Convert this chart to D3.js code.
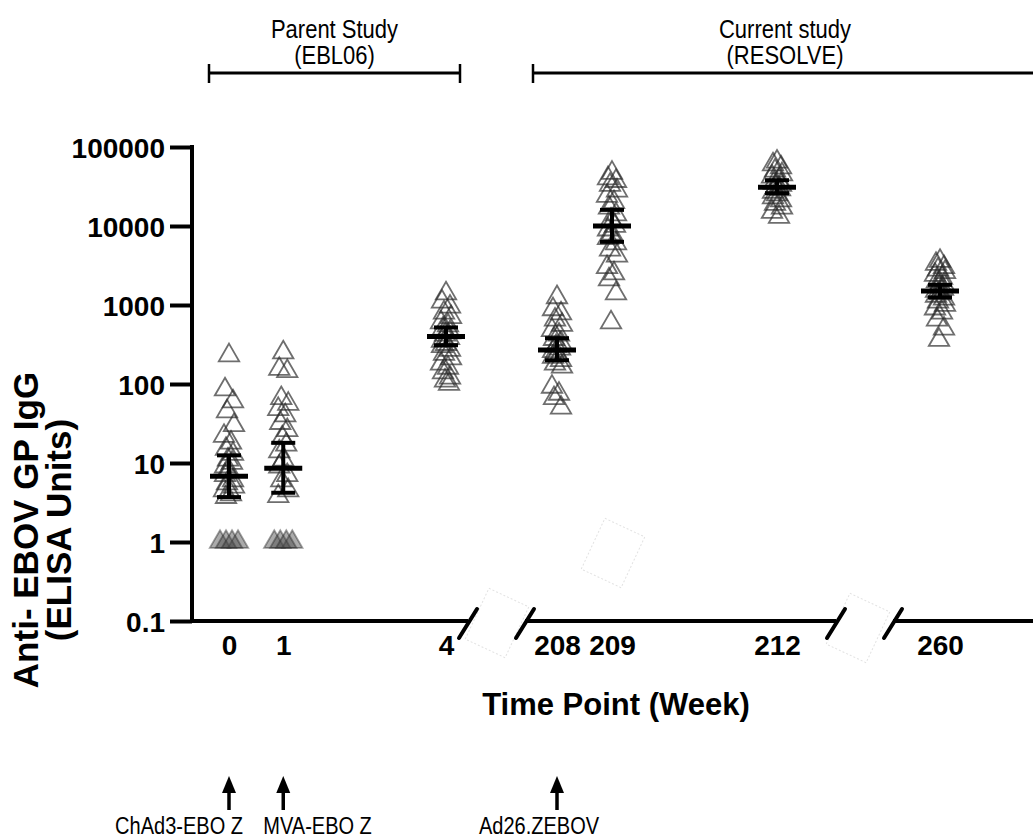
<!DOCTYPE html>
<html><head><meta charset="utf-8">
<script src="https://cdn.jsdelivr.net/npm/d3@7"></script>
<style>body{margin:0;background:#fff}svg{display:block}</style>
</head><body>
<svg id="chart" width="1033" height="838"></svg>
<script>
// ---------- data ----------
const weeks = [0, 1, 4, 208, 209, 212, 260];
const weekLabels = ["0", "1", "4", "208", "209", "212", "260"];
const yTickValues = [0.1, 1, 10, 100, 1000, 10000, 100000];
const yTickLabels = ["0.1", "1", "10", "100", "1000", "10000", "100000"];

const week0Values = [230, 85, 60, 45, 30, 22, 18, 15, 13, 11, 10, 9, 8, 7, 6, 5.5, 5, 4.5, 4, 3.7, 1, 1, 1, 1];
const week1Values = [250, 155, 145, 66, 56, 48, 40, 32, 26, 21, 17, 14, 11, 9, 7, 6, 4.5, 3.8, 1, 1, 1, 1];
const week4Values = [1400, 1100, 950, 800, 700, 600, 550, 500, 450, 420, 380, 350, 320, 300, 270, 240, 210, 180, 160, 140, 120, 110, 100];
const week208Values = [1250, 880, 780, 650, 560, 480, 420, 370, 330, 300, 280, 260, 240, 220, 200, 180, 165, 92, 75, 66, 50];
const week209Values = [47000, 40000, 37000, 33000, 28000, 24000, 20000, 17000, 14000, 12000, 10000, 9000, 8000, 7000, 6000, 5000, 4200, 3000, 2500, 2100, 1400, 600];
const week212Values = [65000, 60000, 55000, 50000, 45000, 42000, 38000, 35000, 33000, 31000, 29000, 27000, 25000, 23000, 21000, 19000, 17000, 15000, 13000];
const week260Values = [3600, 3300, 3000, 2800, 2600, 2400, 2200, 2000, 1800, 1700, 1600, 1500, 1400, 1300, 1200, 1100, 1000, 900, 800, 650, 500, 360];

const geoMean = [6.8, 8.6, 400, 270, 10000, 31000, 1500];
const ciLower = [3.7, 4.2, 310, 200, 6300, 26000, 1250];
const ciUpper = [12.5, 18, 520, 380, 16000, 38000, 1800];

const studyNames = ["Parent Study", "Current study"];
const studyCodes = ["(EBL06)", "(RESOLVE)"];
const vaccineNames = ["ChAd3-EBO Z", "MVA-EBO Z", "Ad26.ZEBOV"];
const vaccineWeeks = [0, 1, 208];

const allValues = [week0Values, week1Values, week4Values, week208Values, week209Values, week212Values, week260Values];

// ---------- layout ----------
const svg = d3.select("#chart");
const yAxisX = 192;
const x = d3.scaleLinear().domain([0, 4, 208, 212, 260]).range([229, 446, 557, 777, 940]);
const y = d3.scaleLog().domain([0.1, 100000]).range([621, 147]);
const axisY = y(0.1);
const font = "'Liberation Sans', Arial, Helvetica, sans-serif";

// condensed text helper: taller glyphs squeezed to a target width
function condensed(sel, squeeze) {
  sel.each(function () {
    const w = this.getComputedTextLength();
    d3.select(this).attr("textLength", w * squeeze).attr("lengthAdjust", "spacingAndGlyphs");
  });
  return sel;
}

// faint artefact boxes seen in the reference
const ghost = svg.append("g").attr("fill", "none").attr("stroke", "#e2e2e2").attr("stroke-width", 1).attr("stroke-dasharray", "2,2");
[[497, 623], [858, 628], [613, 553]].forEach(([cx, cy]) => {
  ghost.append("rect").attr("x", -22).attr("y", -28).attr("width", 44).attr("height", 56)
    .attr("transform", `translate(${cx},${cy}) rotate(25)`);
});

// ---------- points ----------
const jitter = [0, -4, 4, -2, 5, -5, 2, -3, 4, -1, 3, -4];
const lodJitter = [-9, 9, -3, 3, -9, 9];
const tri = d3.symbol().type(d3.symbolTriangle).size(180);
const pts = svg.append("g");
allValues.forEach((vals, gi) => {
  let lodCount = 0;
  vals.forEach((v, i) => {
    const lod = v <= 1;
    const dx = lod ? lodJitter[lodCount++ % lodJitter.length] : jitter[i % jitter.length];
    pts.append("path")
      .attr("d", tri)
      .attr("transform", `translate(${x(weeks[gi]) + dx},${y(v)})`)
      .attr("fill", lod ? "#444" : "none")
      .attr("fill-opacity", lod ? 0.45 : 0)
      .attr("stroke", "#2a2a2a")
      .attr("stroke-opacity", lod ? 0.45 : 0.68)
      .attr("stroke-width", 1.8);
  });
});

// ---------- geometric mean & 95% CI ----------
const eb = svg.append("g").attr("stroke", "#000");
weeks.forEach((w, i) => {
  const cx = x(w);
  eb.append("line").attr("x1", cx).attr("x2", cx).attr("y1", y(ciLower[i])).attr("y2", y(ciUpper[i])).attr("stroke-width", 4);
  [ciLower[i], ciUpper[i]].forEach(v => {
    eb.append("line").attr("x1", cx - 12).attr("x2", cx + 12).attr("y1", y(v)).attr("y2", y(v)).attr("stroke-width", 4);
  });
  eb.append("line").attr("x1", cx - 19).attr("x2", cx + 19).attr("y1", y(geoMean[i])).attr("y2", y(geoMean[i])).attr("stroke-width", 5);
});

// ---------- y axis ----------
const yAxis = svg.append("g").attr("transform", `translate(${yAxisX},0)`)
  .call(d3.axisLeft(y).tickValues(yTickValues).tickFormat((d, i) => yTickLabels[i]).tickSize(22).tickSizeOuter(0).tickPadding(5));
yAxis.select(".domain").attr("stroke", "#000").attr("stroke-width", 4).attr("d", `M0,${y(100000) - 2}V${axisY + 2}`);
yAxis.selectAll(".tick line").attr("stroke", "#000").attr("stroke-width", 4);
yAxis.selectAll(".tick text").attr("font-family", font).attr("font-weight", "bold").attr("font-size", 28).attr("fill", "#000").attr("dy", "0.36em");

// ---------- x axis (broken) ----------
const xAxis = svg.append("g").attr("transform", `translate(0,${axisY})`)
  .call(d3.axisBottom(x).tickValues(weeks).tickFormat((d, i) => weekLabels[i]).tickSize(0).tickPadding(14));
xAxis.select(".domain").remove();
xAxis.selectAll(".tick text").attr("font-family", font).attr("font-weight", "bold").attr("font-size", 28).attr("fill", "#000");

const segments = [[yAxisX - 2, x(4) + 22], [x(208) - 32, x(212) + 59], [x(260) - 47, 1033]];
const axisG = svg.append("g").attr("stroke", "#000");
segments.forEach(([a, b]) => {
  axisG.append("line").attr("x1", a).attr("x2", b).attr("y1", axisY).attr("y2", axisY).attr("stroke-width", 4);
});
[segments[0][1], segments[1][0], segments[1][1], segments[2][0]].forEach(sx => {
  axisG.append("line").attr("x1", sx - 9).attr("y1", axisY + 17).attr("x2", sx + 9).attr("y2", axisY - 12)
    .attr("stroke-width", 4).attr("stroke-linecap", "round");
});

// ---------- titles ----------
svg.append("text").attr("x", 616).attr("y", 715).attr("text-anchor", "middle")
  .attr("font-family", font).attr("font-weight", "bold").attr("font-size", 31).text("Time Point (Week)");
const yt = svg.append("text").attr("transform", "translate(0,530) rotate(-90)").attr("text-anchor", "middle")
  .attr("font-family", font).attr("font-weight", "bold").attr("font-size", 35);
yt.append("tspan").attr("x", 0).attr("y", 38).text("Anti- EBOV GP IgG");
yt.append("tspan").attr("x", 0).attr("y", 71).text("(ELISA Units)");

// ---------- study brackets ----------
const brackets = [[x(0) - 20, x(4) + 14], [x(208) - 24, 1040]];
const br = svg.append("g").attr("stroke", "#000");
brackets.forEach(([a, b], i) => {
  br.append("line").attr("x1", a).attr("x2", b).attr("y1", 73).attr("y2", 73).attr("stroke-width", 3);
  br.append("line").attr("x1", a).attr("x2", a).attr("y1", 64).attr("y2", 83).attr("stroke-width", 2.5);
  if (b < 1033) br.append("line").attr("x1", b).attr("x2", b).attr("y1", 64).attr("y2", 83).attr("stroke-width", 2.5);
  const cx = (a + Math.min(b, 1037)) / 2;
  [[studyNames[i], 38], [studyCodes[i], 64]].forEach(([txt, ty]) => {
    const t = svg.append("text").attr("x", cx).attr("y", ty).attr("text-anchor", "middle")
      .attr("font-family", font).attr("font-size", 25).text(txt);
    condensed(t, 0.88);
  });
});

// ---------- vaccination arrows ----------
const labelAnchors = ["end", "start", "start"];
const labelOffsets = [14, -20, -78];
vaccineWeeks.forEach((w, i) => {
  const cx = x(w);
  svg.append("line").attr("x1", cx).attr("x2", cx).attr("y1", 790).attr("y2", 810).attr("stroke", "#000").attr("stroke-width", 3.5);
  svg.append("path").attr("d", `M${cx},776L${cx - 7},793L${cx + 7},793Z`).attr("fill", "#000");
  const t = svg.append("text").attr("x", cx + labelOffsets[i]).attr("y", 834).attr("text-anchor", labelAnchors[i])
    .attr("font-family", font).attr("font-size", 23).text(vaccineNames[i]);
  condensed(t, 0.87);
});
</script>
</body></html>
